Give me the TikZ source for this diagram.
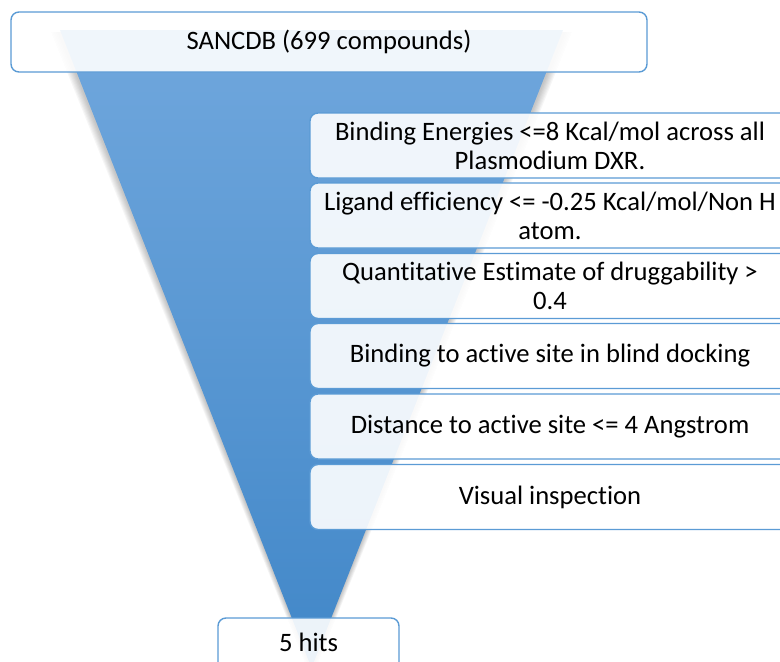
\documentclass[tikz,border=0pt]{standalone}
\usepackage{fontspec}
\setmainfont{Carlito}[Ligatures=NoCommon]
\definecolor{funtop}{HTML}{70A7DD}
\definecolor{funbot}{HTML}{4187C8}
\definecolor{boxline}{HTML}{5B9BD5}
\begin{document}
\begin{tikzpicture}[x=1pt,y=-1pt,
  stagebox/.style={draw=boxline, line width=1.4pt, fill=white, fill opacity=0.9,
    draw opacity=1, text opacity=1, rounded corners=8pt, align=center,
    inner sep=0pt, font=\fontsize{26.6}{29}\selectfont, text=black},
  sidebox/.style={stagebox, minimum width=480pt, minimum height=65pt},
  plaintext/.style={inner sep=0pt, font=\fontsize{26.6}{29}\selectfont, text=black}]
\useasboundingbox (0,0) rectangle (780,662);
\clip (0,0) rectangle (780,662);
% soft shadow of the funnel
\foreach \s in {1,...,7}{
  \pgfmathsetmacro\ax{60-\s*1.3}
  \pgfmathsetmacro\bx{563+\s*1.3}
  \pgfmathsetmacro\cy{668+\s*1.6}
  \fill[black, opacity=0.035] (\ax,32) -- (\bx,32) -- (311.5,\cy) -- cycle;
}
% funnel
\shade[top color=funtop, bottom color=funbot] (60,30) -- (563,30) -- (311.5,668) -- cycle;
% boxes
\node[stagebox, minimum width=636pt, minimum height=60pt] (src) at (329,42) {SANCDB (699 compounds)};
\node[sidebox] (f1) at (550,145.5) {Binding Energies <=8 Kcal/mol across all\\Plasmodium DXR.};
\node[sidebox] (f2) at (550,215.5) {Ligand efficiency <= -0.25 Kcal/mol/Non H\\atom.};
\node[sidebox] (f3) at (550,286) {Quantitative Estimate of druggability >\\0.4};
\node[sidebox] (f4) at (550,356) {Binding to active site in blind docking};
\node[sidebox] (f5) at (550,426.5) {Distance to active site <= 4 Angstrom};
\node[sidebox] (f6) at (550,497) {Visual inspection};
\node[stagebox, minimum width=181pt, minimum height=60pt] (hits) at (308.5,648) {};
\node[plaintext] (hitstext) at (308.5,642) {5 hits};
\end{tikzpicture}
\end{document}
